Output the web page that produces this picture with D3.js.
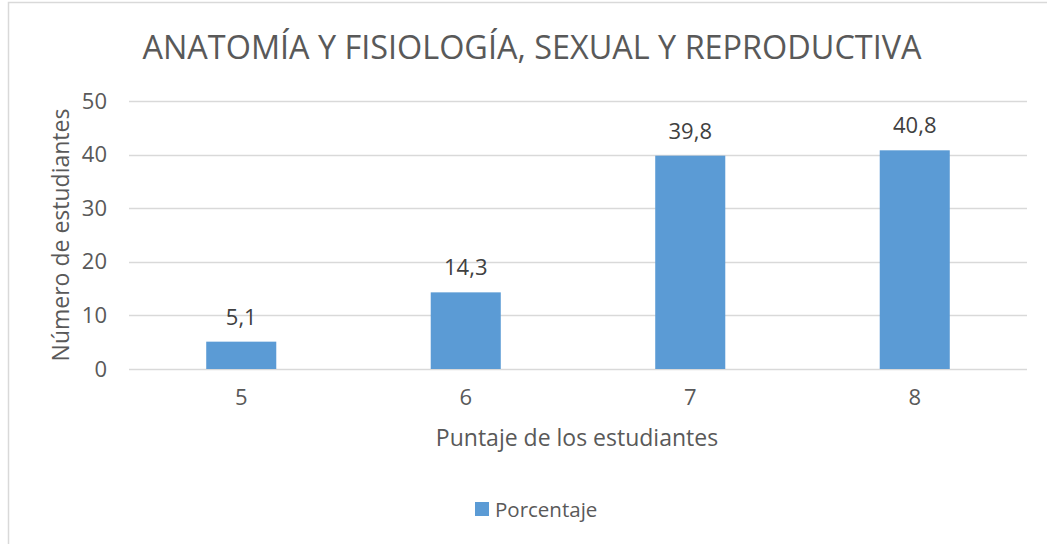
<!DOCTYPE html>
<html>
<head>
<meta charset="utf-8">
<script src="https://cdn.jsdelivr.net/npm/d3@7"></script>
<style>
  html, body { margin: 0; padding: 0; background: #fff; }
  svg { display: block; font-family: "Open Sans", sans-serif; }
</style>
</head>
<body>
<svg id="chart" width="1047" height="544"></svg>
<script>
const categories = ["5", "6", "7", "8"];
const values = [5.1, 14.3, 39.8, 40.8];
const valueLabels = ["5,1", "14,3", "39,8", "40,8"];
const yTicks = [0, 10, 20, 30, 40, 50];
const seriesName = "Porcentaje";
const title = "ANATOMÍA Y FISIOLOGÍA, SEXUAL Y REPRODUCTIVA";
const xTitle = "Puntaje de los estudiantes";
const yTitle = "Número de estudiantes";

const svg = d3.select("#chart");
const W = 1047, H = 544;
const textColor = "#595959";
const gridColor = "#D9D9D9";
const barColor = "#5B9BD5";

// chart border
svg.append("rect")
  .attr("x", 8.5).attr("y", 2.5)
  .attr("width", W + 20).attr("height", H + 20)
  .attr("fill", "#fff").attr("stroke", gridColor).attr("stroke-width", 1.5);

const plot = { left: 129, right: 1027, top: 101, bottom: 369 };

const x = d3.scaleBand().domain(categories).range([plot.left, plot.right]).padding(0);
const y = d3.scaleLinear().domain([0, 50]).range([plot.bottom, plot.top]);

// gridlines
svg.append("g").selectAll("line").data(yTicks).join("line")
  .attr("x1", plot.left).attr("x2", plot.right)
  .attr("y1", d => Math.round(y(d)) + 0.5).attr("y2", d => Math.round(y(d)) + 0.5)
  .attr("stroke", gridColor).attr("stroke-width", 1.5);

// y tick labels
const yAxis = d3.axisLeft(y).tickValues(yTicks).tickSize(0).tickPadding(0);
const yg = svg.append("g").attr("transform", `translate(${plot.left - 22},0)`).call(yAxis);
yg.select(".domain").remove();
yg.selectAll("text").attr("fill", textColor).style("font-size", "22px")
  .style("font-family", "'Open Sans', sans-serif");

// x tick labels
const xAxis = d3.axisBottom(x).tickSize(0).tickPadding(0);
const xg = svg.append("g").attr("transform", `translate(0,${plot.bottom + 20})`).call(xAxis);
xg.select(".domain").remove();
xg.selectAll("text").attr("fill", textColor).style("font-size", "22px")
  .style("font-family", "'Open Sans', sans-serif");

// bars
const barW = x.bandwidth() * 0.312;
svg.append("g").selectAll("rect").data(values).join("rect")
  .attr("x", (d, i) => x(categories[i]) + x.bandwidth() / 2 - barW / 2)
  .attr("y", d => y(d))
  .attr("width", barW)
  .attr("height", d => y(0) - y(d))
  .attr("fill", barColor);

// value labels
svg.append("g").selectAll("text").data(values).join("text")
  .attr("x", (d, i) => x(categories[i]) + x.bandwidth() / 2)
  .attr("y", d => y(d) - 17)
  .attr("text-anchor", "middle")
  .attr("fill", "#404040")
  .style("font-size", "22px")
  .text((d, i) => valueLabels[i]);

// title
svg.append("text")
  .attr("x", 532).attr("y", 59)
  .attr("text-anchor", "middle")
  .attr("fill", textColor)
  .style("font-size", "32.4px")
  .text(title);

// x axis title
svg.append("text")
  .attr("x", 577).attr("y", 446)
  .attr("text-anchor", "middle")
  .attr("fill", textColor)
  .style("font-size", "23px")
  .text(xTitle);

// y axis title
svg.append("text")
  .attr("transform", `translate(69,${(plot.top + plot.bottom) / 2}) rotate(-90)`)
  .attr("text-anchor", "middle")
  .attr("fill", textColor)
  .style("font-size", "23px")
  .text(yTitle);

// legend
const lg = svg.append("g").attr("transform", "translate(475,502)");
lg.append("rect").attr("width", 14).attr("height", 14).attr("fill", barColor);
lg.append("text").attr("x", 20).attr("y", 14.5).attr("fill", textColor)
  .style("font-size", "20.5px").text(seriesName);
</script>
</body>
</html>
